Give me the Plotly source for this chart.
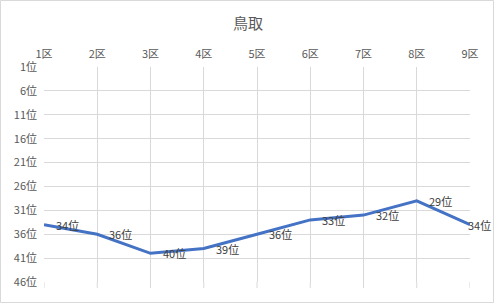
import plotly.graph_objects as go

categories = ["1区", "2区", "3区", "4区", "5区", "6区", "7区", "8区", "9区"]
ranks = [34, 36, 40, 39, 36, 33, 32, 29, 34]
ytick_vals = [1, 6, 11, 16, 21, 26, 31, 36, 41, 46]
ytick_text = [f"{v}位" for v in ytick_vals]
title = "鳥取"

FONT = "Noto Sans CJK JP"
GRID = "#d9d9d9"
TXT = "#595959"
PLOT_H = 215

fig = go.Figure()
fig.add_trace(go.Scatter(
    x=categories, y=ranks, mode="lines",
    line=dict(color="#4472C4", width=3),
    hoverinfo="skip", showlegend=False,
))

n = len(categories)
for i, (c, r) in enumerate(zip(categories, ranks)):
    last = i == n - 1
    fig.add_annotation(
        x=c, y=r, text=f"{r}位", showarrow=False,
        xanchor="left", yanchor="middle", xshift=-4 if last else 10, yshift=0,
        font=dict(family=FONT, size=11, color="#404040"),
    )

shapes = [dict(
    type="rect", xref="paper", yref="paper",
    x0=-43.5 / 426, x1=1 + 23.5 / 426, y0=-20.5 / PLOT_H, y1=1 + 66.5 / PLOT_H,
    line=dict(color=GRID, width=1), fillcolor="rgba(0,0,0,0)", layer="below",
)]
for c in categories:
    shapes.append(dict(
        type="line", xref="x", yref="paper", x0=c, x1=c, y0=0, y1=-6 / PLOT_H,
        line=dict(color=GRID, width=1), layer="below",
    ))

fig.update_layout(
    width=496, height=304,
    margin=dict(l=44, r=26, t=67, b=22),
    paper_bgcolor="white", plot_bgcolor="white",
    title=dict(text=title, x=0.5, xanchor="center", y=1 - 24 / 304, yanchor="middle",
               font=dict(family=FONT, size=15, color=TXT)),
    xaxis=dict(
        type="category", side="top", range=[0, 8],
        showgrid=True, gridcolor=GRID, gridwidth=1,
        showline=False, zeroline=False, ticks="",
        tickfont=dict(family=FONT, size=11, color=TXT),
        ticklabelstandoff=6,
    ),
    yaxis=dict(
        range=[46, 1], tickmode="array", tickvals=ytick_vals, ticktext=ytick_text,
        showgrid=True, gridcolor=GRID, gridwidth=1, zeroline=False, showline=False,
        ticks="", tickfont=dict(family=FONT, size=11, color=TXT),
        ticklabelstandoff=6,
    ),
    shapes=shapes,
)

fig.write_html("out.html")
